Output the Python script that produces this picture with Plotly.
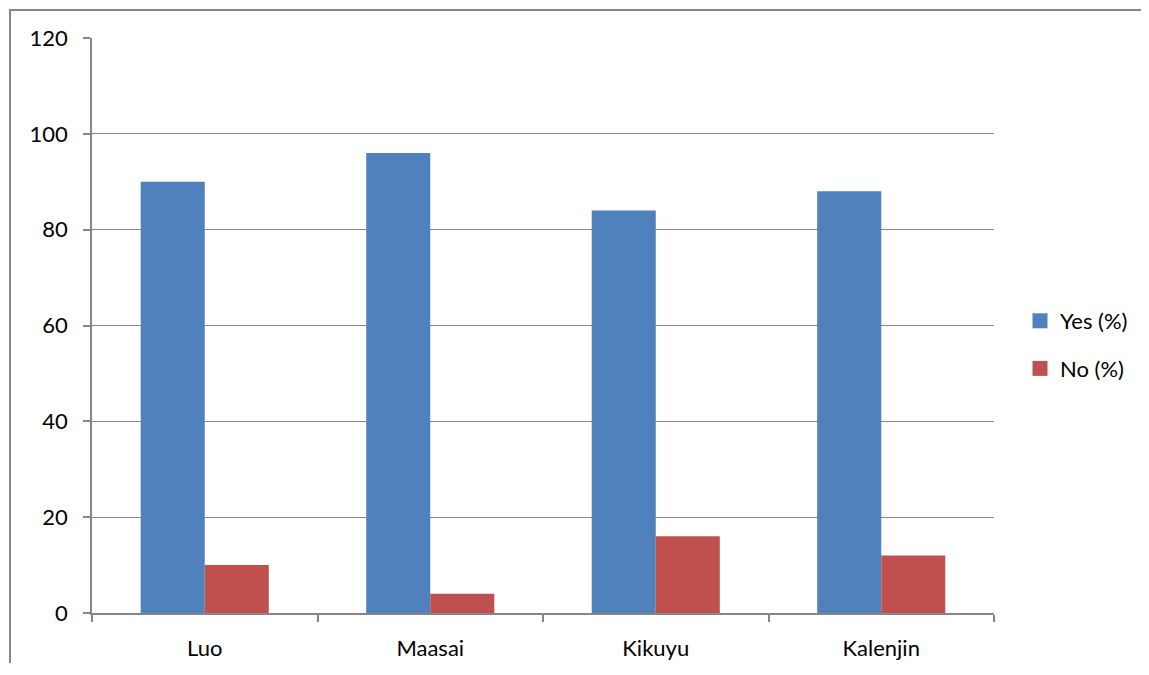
import plotly.graph_objects as go

categories = ["Luo", "Maasai", "Kikuyu", "Kalenjin"]
yes_pct = [90, 96, 84, 88]
no_pct = [10, 4, 16, 12]
y_ticks = [0, 20, 40, 60, 80, 100, 120]

OFF = 8  # default page body margin
W, H = 1133, 655
# plot area in screen pixels
SX0, SX1, SY0, SY1 = 92, 994, 38, 613
L, R, T, B = SX0 - OFF, W - (SX1 - OFF), SY0 - OFF, H - (SY1 - OFF)
pw, ph = SX1 - SX0, SY1 - SY0

def px_x(x):
    return (x - SX0) / pw

def px_y(y):
    return (SY1 - y) / ph

def cx(x):
    return (x - OFF) / W

def cy(y):
    return 1 - (y - OFF) / H

BLUE, RED = "#4F81BD", "#C0504D"
FRAME = "#868686"

fig = go.Figure()
fig.add_trace(go.Bar(name="Yes (%)", x=categories, y=yes_pct, showlegend=False,
                     marker=dict(color=BLUE, line=dict(width=0))))
fig.add_trace(go.Bar(name="No (%)", x=categories, y=no_pct, showlegend=False,
                     marker=dict(color=RED, line=dict(width=0))))
# legend entries with larger square swatches
fig.add_trace(go.Scatter(name="Yes (%)", x=[None], y=[None], mode="markers", legendgroup="a",
                         marker=dict(symbol="square", size=15, color=BLUE)))
fig.add_trace(go.Scatter(name="No (%)", x=[None], y=[None], mode="markers", legendgroup="b",
                         marker=dict(symbol="square", size=15, color=RED)))

fig.update_layout(
    width=W, height=H,
    margin=dict(l=L, r=R, t=T, b=B, autoexpand=False),
    paper_bgcolor="white", plot_bgcolor="white",
    barmode="group", bargap=0.432, bargroupgap=0,
    font=dict(family="Lato, Open Sans, sans-serif", size=22, color="black"),
    legend=dict(xref="container", yref="container", x=cx(1020), y=cy(345),
                xanchor="left", yanchor="middle",
                font=dict(size=22), itemwidth=30, tracegroupgap=16,
                bgcolor="rgba(0,0,0,0)"),
    xaxis=dict(showline=True, linecolor=FRAME, linewidth=1.5, automargin=False,
               ticks="outside", tickson="boundaries", ticklen=7, tickcolor=FRAME,
               tickwidth=1.5, showgrid=False, mirror=False, ticklabelstandoff=15),
    yaxis=dict(range=[0, 120], tickvals=y_ticks, showline=True, linecolor=FRAME,
               linewidth=1.5, ticks="outside", ticklen=7, tickcolor=FRAME, tickwidth=1.5,
               showgrid=True, gridcolor=FRAME, gridwidth=1.2, zeroline=False,
               automargin=False, ticklabelstandoff=11),
    shapes=[
        dict(type="line", xref="paper", yref="paper",
             x0=px_x(10), x1=px_x(10), y0=px_y(9), y1=px_y(700),
             line=dict(color=FRAME, width=2), layer="below"),
        dict(type="line", xref="paper", yref="paper",
             x0=px_x(9), x1=px_x(1170), y0=px_y(10), y1=px_y(10),
             line=dict(color=FRAME, width=2), layer="below"),
    ],
)

fig.write_html("out.html")
